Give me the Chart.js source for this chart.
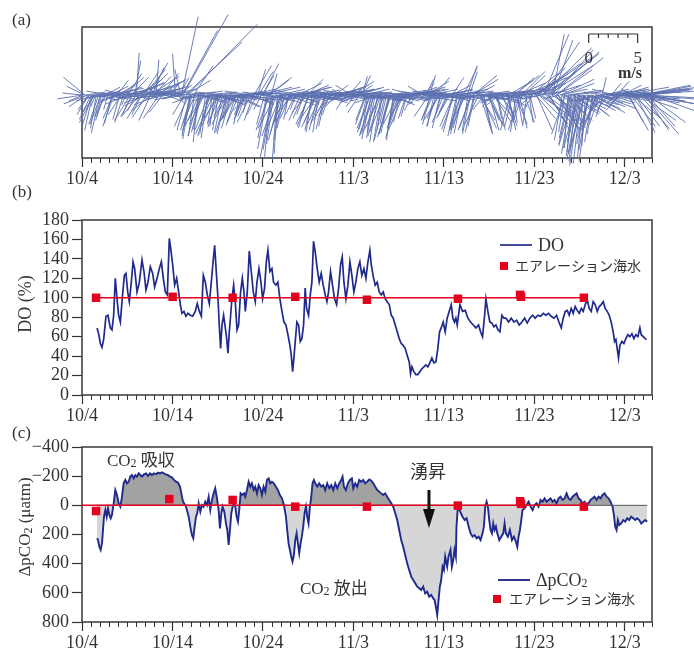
<!DOCTYPE html>
<html><head><meta charset="utf-8">
<script src="https://cdn.jsdelivr.net/npm/chart.js@4.4.1/dist/chart.umd.min.js"></script>
<style>
html,body{margin:0;padding:0;background:#fff;}
#wrap{position:relative;width:694px;height:654px;overflow:hidden;}
canvas{position:absolute;left:0;top:0;}
</style></head><body>
<div id="wrap">
<canvas id="ca" width="694" height="654"></canvas>
<canvas id="cb" width="694" height="654"></canvas>
<canvas id="cc" width="694" height="654"></canvas>
</div>
<script>
// ---------- axis ticks (days since 10/4) ----------
const tickDays = [0, 10, 20, 30, 40, 50, 60];
const tickLabels = ['10/4', '10/14', '10/24', '11/3', '11/13', '11/23', '12/3'];
const doTicks = [0, 20, 40, 60, 80, 100, 120, 140, 160, 180];
const co2Ticks = [-400, -200, 0, 200, 400, 600, 800];

// ---------- (a) wind vectors (u, v in m/s), 6 per day on the hour set ----------
const windPerDay = 6;
const windU = [
-2.0,-1.5,-2.2,-1.8,-1.0,-0.6, -1.2,-0.8,-1.5,-0.5,1.5,-1.0, -0.9,-0.6,1.8,2.2,-1.2,-0.4,
2.5,1.8,-0.8,-1.1,2.0,1.2, 2.4,-0.7,-1.3,3.0,2.0,-0.4, 1.5,2.8,-1.6,-0.9,3.2,0.6,
0.3,2.5,-1.8,-1.4,3.0,2.2, 3.5,-1.5,2.0,3.0,-2.0,2.6, 1.7,0.3,3.2,-1.6,2.5,1.0,
2.2,-1.5,1.5,-2.0,1.0,-0.8, 0.8,-1.2,-0.3,1.5,0.5,-1.0, 1.7,4.6,-1.2,2.5,7.1,-1.5,
-0.8,-1.0,2.0,-1.3,2.5,-0.5, -1.2,-0.8,2.8,-1.5,-0.6,3.0, -1.4,-0.9,2.5,-1.8,-0.5,3.2,
-1.0,-1.6,2.2,-0.8,3.0,-1.2, -1.5,-0.7,2.8,-1.0,3.5,-2.0, -0.9,2.4,-1.3,3.0,-0.6,2.0,
-1.1,2.6,-0.5,3.2,-1.4,2.2, 1.8,2.5,-1.0,1.5,3.0,-0.8, 1.6,-0.8,3.5,-1.0,2.0,-0.6,
-1.2,-0.7,3.0,-1.5,-0.4,2.6, -1.6,-0.9,3.2,-1.3,2.8,-0.5, -1.0,3.0,-1.8,2.5,-0.6,3.5,
2.8,-1.2,3.3,-0.7,2.4,-1.5, -1.0,-1.4,3.0,-0.8,2.6,-1.2, -1.6,-0.6,2.8,-1.1,3.4,-0.9,
-1.3,2.9,-0.7,3.1,-1.5,2.5, 2.7,-1.2,3.2,-0.8,2.5,-1.6, 3.0,-1.0,2.6,1.2,3.3,-1.4,
2.8,-0.9,3.1,1.5,-1.2,2.4, 0.5,2.6,-1.0,-0.8,3.0,-1.3, -1.0,-0.6,-1.5,2.8,-0.8,-1.2,
-1.3,-0.5,3.0,-1.1,-0.7,2.5, -0.9,-1.4,2.7,-0.6,-1.0,3.2, -1.2,-0.7,3.0,-1.5,2.2,-0.8,
2.8,-1.2,3.3,-0.8,2.4,-1.5, 3.0,-1.0,2.6,-1.3,3.4,1.0, 0.8,2.2,-1.5,-0.8,3.0,-1.2,
1.5,-1.0,2.8,-1.6,-0.5,3.1, -1.2,2.5,-0.8,3.2,-1.4,2.0, -1.0,-1.3,2.8,-0.7,3.0,-1.1,
-0.8,1.4,-1.5,3.2,-0.6,0.8, -1.2,2.6,-0.9,3.0,1.8,-1.4, 1.2,2.5,0.8,-1.2,3.2,1.5,
1.0,2.8,-1.0,1.8,3.0,0.5, 2.6,-1.3,1.4,3.1,-0.8,2.2, 1.0,2.5,-1.0,3.0,0.4,2.0,
-0.6,2.8,0.8,3.4,-0.9,2.2, 3.2,-0.4,2.6,0.6,3.6,-1.0, 3.5,2.0,5.5,3.0,2.4,4.2,
2.6,5.5,3.4,4.6,2.2,3.0, 1.2,4.0,2.4,3.6,1.6,2.8, 2.5,3.2,-0.6,2.0,3.6,-1.0,
-1.2,-0.5,2.6,-0.9,3.0,-1.5, -1.3,-0.8,2.8,-1.6,-0.4,3.2, -1.0,-1.4,3.4,-0.6,2.6,-1.2,
2.8,-1.0,3.6,0.4,-0.8,2.4, 3.0,-1.2,2.6,1.0,3.2,-0.8, 3.4,1.2,-1.0,3.0,2.0,-1.4,
4.5,3.6,1.6,5.2,2.5,4.8, 5.5,2.0,4.2,6.0,3.0,5.0, 5.8,3.5,4.6,2.8,5.2,4.0
];
const windV = [
0.2,-0.6,1.8,-1.2,-1.5,-0.8, -2.5,-3.6,-2.8,-1.2,0.3,-3.0, -3.9,-2.6,0.4,-0.3,-2.2,-1.5,
0.5,0.9,-2.9,-3.2,-0.4,1.5, 0.8,-2.5,-2.0,0.6,1.8,-1.0, 2.2,0.4,-2.6,-1.9,1.2,3.5,
4.3,1.6,-2.2,-2.4,0.8,2.6, 1.2,-2.3,3.3,1.9,-1.6,0.3, 1.9,3.6,0.9,-2.4,1.5,0.4,
0.8,0.5,-0.6,-0.4,1.2,0.3, 0.5,-0.4,4.2,1.0,-0.8,0.6, 8.0,8.2,-2.0,1.5,7.2,-3.2,
-4.5,-3.8,3.0,-3.0,-0.5,-4.8, -4.2,-3.5,-0.2,-3.0,-4.0,0.3, -3.6,-2.8,-0.6,-4.0,-3.2,-0.3,
-3.3,-2.5,-0.9,-3.9,-0.1,-2.2, -3.0,-2.6,-0.5,-3.4,0.2,-2.0, -2.8,-1.2,-3.1,-0.6,-2.2,0.4,
-2.5,-0.8,-1.8,0.2,-2.8,-1.0, 3.0,0.5,-2.0,2.4,-0.4,-1.5, 3.2,-3.0,0.8,-5.5,1.5,-6.3,
-6.4,-5.0,-0.5,-4.2,-6.0,0.6, -3.8,-4.6,-0.3,-3.0,-1.0,-2.5, -2.4,0.4,-2.0,-0.8,-1.5,0.8,
0.3,-2.6,-0.5,-2.0,1.0,-1.8, -3.4,-3.0,-0.4,-3.6,0.5,-2.8, -3.3,-3.8,-0.6,-2.9,0.4,-3.5,
-2.6,-0.2,-2.0,0.6,-1.6,-0.5, 0.4,-1.2,-0.3,0.6,0.9,-0.8, 0.5,-1.5,-0.2,1.4,0.3,-0.6,
0.7,-1.2,0.2,1.0,-1.8,-0.4, 1.9,0.6,-2.6,-3.5,-0.3,-3.8, -4.5,-3.8,-4.0,-0.5,-4.8,-3.2,
-4.2,-3.6,-0.8,-4.6,-3.0,-0.2, -3.9,-4.3,-0.6,-3.3,-4.4,0.2, -3.4,-2.8,-0.4,-3.6,0.5,-2.4,
0.4,-0.8,0.2,-1.6,0.8,-0.4, 0.3,-1.0,0.6,-0.5,-0.2,1.2, 1.6,1.4,-2.2,-3.0,0.2,-2.5,
1.8,-3.2,-0.4,-2.6,-2.0,0.5, -2.8,-0.6,-1.8,0.3,-2.4,1.0, -3.8,-3.5,-0.3,-4.0,0.6,-3.3,
-3.9,2.8,-3.6,-0.2,-3.7,2.4, -3.4,1.6,-3.8,-0.5,1.0,-3.0, -3.8,-0.4,-3.4,-1.5,0.3,-3.0,
-3.6,-0.8,-1.2,-2.8,0.4,-2.4, -0.3,-1.0,-2.2,0.5,-0.6,-1.2, -3.2,1.5,-3.6,0.2,-2.8,1.8,
-3.8,1.2,-3.4,0.6,-2.6,2.0, 1.4,-3.0,0.6,-2.4,1.8,-1.6, 2.2,-2.4,3.8,-3.0,1.2,-3.2,
6.2,4.2,-2.6,3.0,-3.8,1.0, 6.2,4.6,-3.4,2.6,-2.2,0.6, -2.0,1.2,-3.8,-3.4,0.5,-4.4,
-5.0,-5.8,-2.0,-6.2,-1.4,-5.4, -6.6,-7.0,-2.2,-6.0,-5.2,-1.0, -5.6,-4.4,-1.8,-4.0,-0.4,-3.2,
-1.2,-3.0,-1.4,1.8,-2.2,0.6, 0.4,-1.6,-0.8,1.2,-0.2,-1.0, 0.6,1.4,-1.2,-0.6,1.0,-0.4,
0.8,-0.6,-2.8,0.3,-3.2,-0.8, 0.6,-3.8,-1.4,0.4,-3.4,1.0, -0.3,-4.0,0.9,-3.2,-1.0,0.5
];
// second set, half a step later (u, v in m/s)
const windU2 = [
-2.6,-1.8,2.0,-2.4,-1.2,1.6, -1.0,2.4,-1.4,-0.6,-2.2,1.8, -1.1,2.6,-0.7,1.5,-2.0,2.2,
-2.4,2.8,-1.0,3.0,-1.8,1.6, 2.6,-2.0,1.4,-0.9,2.8,-2.2, 3.0,-2.4,1.8,-1.2,2.4,-0.8,
2.8,-2.6,3.4,-1.0,1.6,-2.0, 2.2,-2.4,3.0,-1.2,1.2,-2.8, 3.2,-2.0,2.4,-2.6,1.8,-1.4,
2.6,-2.2,3.0,-1.8,2.0,-2.6, 2.4,-1.8,2.8,-2.4,1.0,-0.6, 3.6,-2.2,5.8,-1.0,2.8,-0.8,
-1.1,3.0,-0.6,-2.4,2.6,-1.4, -0.9,2.4,-1.6,-2.6,3.2,-0.7, -1.2,2.8,-0.5,-2.2,3.0,-1.6,
-0.6,2.6,-1.4,-2.8,3.4,-0.9, -1.2,3.0,-0.8,-2.4,2.6,-1.6, -1.4,2.8,-0.6,-2.2,3.2,-1.0,
-0.8,3.0,-1.6,-2.6,2.4,-0.9, -2.4,2.8,0.8,-1.6,3.2,1.2, -2.2,3.0,-0.9,2.4,-1.4,0.6,
-1.0,2.8,-1.8,-0.5,3.2,-1.2, -1.2,2.6,-0.8,-2.2,3.4,-1.4, 2.6,-2.4,3.2,-1.0,-2.0,2.4,
-2.2,3.0,-1.0,2.6,-2.6,1.6, -1.2,2.8,-0.6,-2.4,3.2,-1.6, -0.9,3.0,-1.4,-2.6,2.4,-0.7,
-2.4,2.6,-1.2,3.2,-2.0,1.4, -2.6,3.0,-1.8,2.4,-2.2,3.4, -2.2,2.8,-2.8,3.2,-1.6,2.2,
-2.8,3.0,-1.8,2.6,-2.4,0.9, -2.4,2.8,-1.1,-0.6,3.2,-1.4, -1.3,2.6,-0.9,-2.2,3.0,-1.6,
-0.8,3.2,-1.5,-2.6,2.8,-1.0, -1.2,2.8,-0.7,-2.4,3.2,-1.5, -1.0,3.0,-1.4,-2.6,2.6,-0.6,
-2.4,3.2,-2.0,2.6,-2.8,3.0, -2.6,2.8,-2.2,3.4,-1.6,2.4, -2.2,3.0,0.6,-1.0,2.6,-0.7,
-2.4,2.8,-1.2,-0.8,3.4,-2.0, -2.6,3.0,-1.0,2.4,-2.2,1.2, -1.4,2.6,-0.9,-2.4,3.2,-1.2,
-1.0,3.0,-1.6,1.0,-2.6,-0.8, -1.4,2.4,-0.7,3.2,-2.2,1.6, 1.6,2.8,0.9,-2.2,3.4,1.1,
1.4,-2.0,2.2,3.2,-1.6,0.8, -2.4,2.8,1.2,-1.8,3.4,0.6, 0.8,-2.2,3.2,-0.8,2.6,1.2,
0.6,3.0,-1.2,2.4,-2.4,1.0, -2.2,3.0,0.4,2.8,-1.4,3.4, 4.6,1.6,2.8,3.8,-2.0,5.0,
3.6,2.8,4.4,1.8,5.0,2.6, 2.0,3.0,4.8,2.2,-1.6,3.4, -0.8,3.0,-1.4,2.6,-0.4,3.2,
-1.0,2.8,-1.6,-0.7,3.4,-1.2, -1.1,2.6,-0.6,-1.5,3.0,-0.9, -1.3,3.0,-0.8,-2.0,2.8,-1.6,
-1.2,3.2,-2.2,2.6,-1.6,3.0, -2.4,2.8,-1.8,3.4,-2.2,2.6, -2.6,3.2,-1.4,2.8,-2.0,3.6,
3.8,-1.8,2.0,5.6,3.0,-1.2, 4.6,2.4,6.2,-1.6,3.6,5.4, 5.0,2.4,6.0,3.8,-1.4,4.4
];
const windV2 = [
-0.4,0.9,0.3,-0.9,-2.0,-0.2, -3.2,0.2,-2.0,-3.4,-0.6,-0.5, -3.0,-0.4,-2.2,0.8,-0.3,0.3,
0.4,-0.2,-2.4,0.7,-0.8,0.9, 0.2,-0.6,1.2,-2.8,-0.4,0.5, 0.9,-0.9,1.8,-2.2,-0.2,-1.6,
1.3,-0.5,0.4,-2.0,2.4,-1.1, 2.2,-0.8,0.6,-2.6,2.8,0.2, 1.6,-0.3,0.2,-1.0,2.2,-1.8,
0.3,-0.2,0.6,0.8,-0.4,0.3, -0.3,0.4,0.2,-0.5,1.8,2.6, 6.6,-0.4,5.4,-3.6,0.3,-4.2,
-3.6,-0.3,-4.2,-0.8,0.4,-3.2, -3.8,-0.8,-2.6,-0.4,-0.5,-4.4, -4.2,0.2,-3.0,-0.6,-1.0,-3.2,
-3.6,-0.7,-2.8,0.3,-0.3,-4.0, -3.8,-0.2,-2.4,-0.5,-1.2,-2.8, -2.4,0.3,-3.0,-0.7,-0.4,-2.0,
-2.2,-0.5,-1.6,0.4,0.6,-2.6, -0.3,0.2,2.6,-0.9,0.8,2.0, 0.3,-0.6,-4.4,1.8,-3.6,2.2,
-5.6,-0.8,-3.4,-6.6,0.2,-4.6, -4.0,0.4,-3.4,-0.5,-0.2,-2.8, -0.6,0.2,0.3,-2.0,-0.5,1.2,
0.4,-0.2,-2.4,0.8,-0.6,1.6, -3.2,-0.5,-3.8,-0.3,0.2,-2.4, -3.6,0.3,-3.0,0.2,-0.8,-3.2,
0.2,-0.6,-2.2,0.4,-0.4,1.0, 0.3,-0.4,0.6,0.8,-0.5,0.2, -0.6,0.6,0.2,-0.3,1.0,1.4,
0.4,-0.2,-0.8,0.8,0.2,2.0, -0.4,0.3,-3.0,-4.0,-0.6,-3.4, -4.2,-0.6,-4.4,-0.8,0.2,-3.6,
-4.8,-0.4,-3.8,0.2,-1.0,-4.0, -4.0,0.2,-4.6,-0.4,-0.6,-3.0, -3.0,-0.5,-2.6,0.3,0.4,-2.2,
0.2,-0.4,0.6,0.5,-0.3,0.8, -0.5,0.2,0.4,-0.6,0.9,0.6, 0.3,-0.3,2.0,-2.6,0.6,-3.2,
0.4,0.3,-2.4,-3.4,-0.2,-0.6, -0.3,-0.5,-2.2,0.6,0.3,1.8, -3.2,0.3,-4.2,-0.4,-0.6,-3.6,
-3.4,0.4,-3.0,3.0,-0.3,-4.0, -3.6,2.0,-3.2,0.2,-0.4,-2.6, -3.4,0.4,-4.0,-0.3,-0.6,-2.6,
-3.2,0.2,-2.4,-0.4,-0.8,-3.6, 0.4,0.3,-2.8,-0.5,-0.2,-2.0, -3.6,0.3,0.6,-3.2,2.0,-3.0,
-3.2,0.8,-3.6,2.4,-0.2,-2.8, -0.4,0.9,-2.8,2.2,-1.2,0.4, 3.2,-3.6,2.8,-2.6,-0.4,4.8,
5.4,-3.0,3.6,-2.8,4.4,-1.6, 5.6,-2.8,3.8,-3.6,-0.4,1.6, -4.6,-1.6,-4.0,-2.6,-5.4,0.3,
-6.0,-1.8,-5.2,-6.8,-1.2,-4.8, -7.2,-2.0,-6.4,-5.6,-1.6,-6.8, -5.0,-1.4,-4.8,-0.6,-0.8,-3.6,
-2.6,-0.9,-0.5,0.4,-1.8,0.2, 0.3,-0.5,-1.2,0.5,0.6,-0.3, -0.4,0.3,-1.6,0.8,0.2,-0.2,
0.3,-0.4,-3.6,-0.6,-2.4,0.6, -0.4,-3.2,0.8,-0.3,-2.6,-0.9, 0.6,-3.6,-0.5,-2.8,0.3,-1.6
];

// ---------- (b) DO (%) ----------
const doDays = [
1.66,1.84,2.03,2.21,2.39,2.65,2.87,3.13,3.31,3.50,3.68,3.87,4.05,4.24,4.42,4.68,4.86,5.05,5.23,5.45,
5.64,5.82,6.08,6.34,6.63,6.85,7.07,7.29,7.55,7.81,8.03,8.29,8.55,8.77,8.99,9.21,9.43,9.65,9.80,10.02,
10.24,10.46,10.68,10.87,11.05,11.27,11.49,11.71,11.97,12.23,12.52,12.74,12.97,13.19,13.41,13.63,13.85,14.07,14.29,14.44,
14.66,14.84,15.03,15.17,15.32,15.47,15.65,15.84,15.99,16.13,16.28,16.43,16.57,16.76,16.94,17.13,17.31,17.53,17.72,17.90,
18.05,18.27,18.49,18.71,18.93,19.15,19.34,19.56,19.78,19.96,20.18,20.37,20.55,20.77,
20.99,21.17,21.43,21.65,21.87,22.10,22.32,22.54,22.76,22.98,23.13,23.28,23.42,23.57,23.75,23.94,24.12,24.30,24.49,24.67,
24.82,25.04,25.23,25.41,25.59,25.78,26.00,26.22,26.44,26.66,26.88,27.07,27.25,27.47,27.69,27.91,28.14,28.36,28.58,28.76,
28.95,29.17,29.39,29.61,29.83,30.05,30.27,30.49,30.71,30.93,31.16,31.38,31.60,31.82,31.97,32.19,32.41,32.63,32.85,33.07,
33.29,33.51,33.73,33.96,34.18,34.40,34.62,34.84,35.06,35.28,35.50,35.72,35.94,36.17,36.31,36.46,36.68,36.90,37.12,37.34,
37.56,37.79,38.01,38.23,38.45,38.67,38.89,39.11,39.33,39.52,39.70,39.92,40.14,40.36,40.58,40.81,40.99,41.17,41.32,41.47,
41.77,42.06,42.36,42.65,42.95,43.24,43.54,43.83,44.05,44.27,44.50,44.64,44.86,45.08,45.31,45.53,45.75,45.97,46.19,46.41,
46.63,46.85,47.15,47.44,47.74,48.03,48.33,48.62,48.92,49.21,49.50,49.80,50.09,50.39,50.68,50.98,51.27,51.57,51.86,52.16,
52.45,52.75,52.97,53.19,53.41,53.63,53.85,54.07,54.29,54.51,54.73,54.96,55.18,55.40,55.62,55.84,56.06,56.28,56.50,56.72,
56.95,57.17,57.39,57.61,57.83,58.05,58.27,58.49,58.71,58.86,59.01,59.15,59.30,59.45,59.67,59.89,60.11,60.33,60.55,60.78,
61.00,61.22,61.44,61.66,61.81,62.03,62.25,62.40
];
const doValues = [
69,63,53,49,57,81,82,69,67,82,120,99,82,75,96,123,125,106,96,116,
137,130,106,116,139,127,108,116,132,125,111,120,130,137,120,106,103,161,151,134,
113,120,106,93,84,86,81,84,82,81,86,94,86,81,123,116,103,94,116,132,
154,127,99,72,48,72,82,69,58,43,65,82,99,113,96,67,72,106,120,106,
86,106,148,127,106,96,116,130,116,99,110,137,149,127,
130,116,113,116,99,86,75,72,62,51,41,24,38,55,75,72,55,58,72,110,
89,82,103,116,158,147,130,116,125,113,103,96,106,127,113,99,93,110,134,142,
116,99,113,137,123,106,116,130,137,123,130,120,137,149,134,122,113,116,106,103,
106,99,96,93,82,79,72,65,58,53,51,48,41,34,22,29,24,21,21,24,
27,29,31,29,33,38,33,34,48,65,69,75,65,79,86,93,79,75,79,72,
93,86,87,79,75,72,69,72,65,60,82,99,86,75,74,70,72,67,65,82,
79,79,75,79,75,77,72,75,79,74,79,82,79,82,81,84,82,84,81,79,
82,74,69,79,86,87,82,89,84,91,87,84,89,86,93,98,89,86,96,93,
86,91,93,96,89,86,82,75,65,55,57,48,38,51,55,53,58,62,60,63,
58,62,60,69,62,60,58,57
];
const doRefLevel = 100;
const aerDaysDO = [1.55, 10.02, 16.65, 23.57, 31.49, 41.55, 48.42, 48.52, 55.47];
const aerDO = [100, 101, 100, 101, 98, 99, 103, 101, 100];

// ---------- (c) ΔpCO2 (μatm) ----------
const co2Days = [
1.66,1.77,1.92,2.06,2.21,2.32,2.43,2.58,2.73,2.87,3.02,3.17,3.31,3.50,3.68,3.87,4.05,4.24,4.42,4.60,
4.79,4.97,5.16,5.34,5.52,5.71,5.89,6.08,6.26,6.45,6.63,6.85,7.07,7.29,7.51,7.73,7.96,8.18,8.40,8.62,
8.84,9.06,9.28,9.50,9.72,9.94,10.17,10.39,10.61,10.83,10.98,11.12,11.27,11.42,11.60,11.79,11.97,12.15,12.30,12.45,
12.60,12.74,12.89,13.08,13.26,13.44,13.63,13.81,14.00,14.18,14.36,14.55,14.73,14.92,15.10,15.25,15.40,15.54,15.73,15.91,
16.06,16.21,16.35,16.50,16.65,16.80,16.94,17.09,17.24,17.38,17.53,17.68,17.90,18.05,18.23,18.42,18.60,18.78,18.97,19.15,
19.34,19.52,19.71,19.89,20.07,20.26,20.44,20.63,20.81,
20.99,21.21,21.43,21.65,21.87,22.10,22.32,22.54,22.68,22.83,22.98,23.13,23.27,23.42,23.57,23.72,23.86,24.01,24.16,24.30,
24.45,24.60,24.75,24.89,25.04,25.19,25.34,25.48,25.63,25.78,26.00,26.22,26.44,26.66,26.88,27.10,27.33,27.55,27.77,27.99,
28.21,28.43,28.65,28.80,28.95,29.17,29.39,29.61,29.83,29.98,30.20,30.42,30.64,30.86,31.08,31.30,31.52,31.75,31.97,32.19,
32.41,32.63,32.85,33.07,33.29,33.51,33.73,33.96,34.18,34.40,34.62,34.84,35.06,35.28,35.50,35.72,35.94,36.16,36.39,36.61,
36.83,37.05,37.27,37.49,37.71,37.93,38.15,38.37,38.60,38.82,38.96,39.11,39.26,39.41,39.55,39.70,39.85,40.00,40.14,40.36,
40.51,40.73,40.88,41.03,41.17,41.32,41.39,41.54,
42.06,42.29,42.51,42.73,42.95,43.17,43.39,43.61,43.83,44.05,44.27,44.42,44.57,44.72,44.86,45.01,45.16,45.31,45.45,45.60,
45.75,45.90,46.12,46.34,46.56,46.71,46.85,47.07,47.29,47.52,47.74,47.96,48.11,48.25,48.40,48.55,48.69,48.92,49.14,49.36,
49.58,49.80,50.02,50.24,50.46,50.68,50.90,51.13,51.35,51.57,51.79,52.01,52.23,52.45,52.67,52.89,53.11,53.34,53.56,53.78,
54.00,54.22,54.44,54.66,54.88,55.10,55.32,55.55,55.77,55.99,56.21,56.43,56.65,56.87,57.09,57.31,57.53,57.76,57.98,58.20,
58.42,58.64,58.79,58.93,59.08,59.23,59.38,59.60,59.82,60.04,60.26,60.48,60.70,60.92,61.14,61.36,61.59,61.81,62.03,62.25,62.47
];
const co2Values = [
226,238,284,306,261,169,78,32,78,21,66,89,66,-14,-105,-71,-14,9,-59,-151,
-174,-151,-162,-197,-208,-185,-208,-197,-219,-208,-197,-213,-219,-201,-219,-208,-219,-213,-224,-219,
-226,-219,-213,-208,-197,-192,-174,-162,-155,-128,-82,-37,-14,-2,32,78,146,204,226,146,
78,55,-14,43,-2,9,-25,-2,-59,32,-37,-82,-117,-48,32,158,55,9,43,124,
169,272,169,55,9,-14,9,78,112,32,-82,-71,-82,-59,-105,-162,-128,-151,-105,-128,
-82,-139,-117,-71,-128,-94,-174,-185,-151,
-162,-151,-128,-105,-71,-48,-2,78,169,261,306,352,386,341,238,192,261,329,261,215,
146,55,9,78,124,9,-59,-151,-174,-151,-128,-151,-128,-139,-105,-151,-117,-139,-105,-151,
-117,-151,-174,-197,-128,-105,-151,-174,-185,-117,-151,-128,-174,-162,-174,-151,-162,-178,-169,-151,
-128,-105,-94,-82,-71,-82,-59,-37,-14,9,55,101,169,238,284,341,398,444,489,512,
535,558,569,581,558,604,592,626,615,638,649,695,752,649,558,512,421,444,352,421,
352,306,421,375,306,352,146,9,
78,101,89,146,192,215,204,226,215,238,192,146,9,-25,9,101,169,192,124,169,
146,192,238,215,192,124,192,215,169,238,215,249,284,215,169,101,32,21,-2,-25,
9,32,-2,-14,9,-37,-25,-48,-25,-37,-48,-25,-37,-14,-48,-59,-37,-48,-82,-48,
-37,-59,-71,-82,-48,-37,-14,-25,9,-14,-37,-48,-59,-37,-59,-48,-71,-82,-59,-48,
-25,9,66,146,169,101,135,124,101,112,89,101,78,89,101,89,101,124,112,101,112
];
const co2RefLevel = 0;
const aerDaysCO2 = [1.55, 9.65, 16.65, 23.57, 31.49, 41.54, 48.42, 48.52, 55.47];
const aerCO2 = [39, -43, -37, 9, 9, 2, -28, -10, 9];

// ---------- styling ----------
const SERIF = "'Liberation Serif','Times New Roman',serif";
const CJK = "'Noto Sans CJK JP','Noto Sans CJK SC',sans-serif";
const INK = '#333333';
const NAVY = '#1f2a8c';
const RED = '#e5001e';
const WIND = 'rgba(92,112,176,0.9)';
const X_MAX = 63;
const Y_WIND_MIN = -6.43, Y_WIND_MAX = 6.94;  // m/s, same px per m/s as x
const KX = (131 / (Y_WIND_MAX - Y_WIND_MIN)) / (570 / X_MAX); // days per m/s

function xScale() {
  return {
    type: 'linear', min: 0, max: X_MAX,
    afterBuildTicks: s => { s.ticks = tickDays.map(v => ({ value: v })); },
    afterFit: s => { s.height = 32; },
    ticks: { callback: (v, i) => tickLabels[i], autoSkip: false, maxRotation: 0, minRotation: 0,
             font: { family: SERIF, size: 18 }, color: INK, padding: 1 },
    grid: { drawOnChartArea: false, drawTicks: true, tickLength: 9, tickColor: INK, tickWidth: 1.2 },
    border: { display: false }
  };
}
function yScale(extra) {
  return Object.assign({
    afterFit: s => { s.width = 82; },
    grid: { drawOnChartArea: false, drawTicks: true, tickLength: 10, tickColor: INK, tickWidth: 1.2 },
    border: { display: false },
    ticks: { font: { family: SERIF, size: 18 }, color: INK, padding: 3, autoSkip: false }
  }, extra);
}

const framePlugin = {
  id: 'frame',
  beforeDatasetsDraw(chart) {
    const { ctx, chartArea: a, scales: { x } } = chart;
    ctx.save();
    ctx.strokeStyle = '#3a3a3a'; ctx.lineWidth = 1.5;
    ctx.strokeRect(a.left, a.top, a.right - a.left, a.bottom - a.top);
    ctx.lineWidth = 1; ctx.strokeStyle = INK;
    ctx.beginPath();
    for (let d = 0; d <= X_MAX; d++) {
      if (d % 10 === 0) continue;
      const px = Math.round(x.getPixelForValue(d)) + 0.5;
      ctx.moveTo(px, a.bottom); ctx.lineTo(px, a.bottom + 5);
    }
    ctx.stroke();
    ctx.restore();
  }
};

function runs(ctx, x, y, parts, align) {
  let w = 0;
  parts.forEach(p => { ctx.font = p[1]; w += ctx.measureText(p[0]).width; });
  let cx = align === 'center' ? x - w / 2 : x;
  parts.forEach(p => { ctx.font = p[1]; ctx.fillText(p[0], cx, y + (p[2] || 0)); cx += ctx.measureText(p[0]).width; });
}
function vtitle(ctx, cx, cy, parts) {
  ctx.save(); ctx.translate(cx, cy); ctx.rotate(-Math.PI / 2);
  runs(ctx, 0, 6, parts, 'center'); ctx.restore();
}
const f = (sz, fam, w) => (w || '') + ' ' + sz + 'px ' + fam;

const common = {
  responsive: false, animation: false, devicePixelRatio: 1, events: [],
  plugins: { legend: { display: false }, tooltip: { enabled: false } }
};

// ---------- panel (a) ----------
const stickPts = [];
function addSticks(us, vs, offset) {
  us.forEach((u, i) => {
    const t = (i + offset) / windPerDay;
    stickPts.push({ x: t, y: 0 }, { x: t + u * KX, y: vs[i] }, { x: t, y: null });
  });
}
addSticks(windU, windV, 0);
addSticks(windU2, windV2, 0.5);
new Chart(document.getElementById('ca'), {
  type: 'line',
  data: { datasets: [{ data: stickPts, borderColor: WIND, borderWidth: 1, pointRadius: 0,
                       spanGaps: false, tension: 0, clip: false }] },
  options: Object.assign({}, common, {
    layout: { padding: { left: 0, right: 42, top: 27, bottom: 464 } },
    scales: { x: xScale(), y: yScale({ min: Y_WIND_MIN, max: Y_WIND_MAX, ticks: { display: false },
                                        grid: { display: false } }) }
  }),
  plugins: [framePlugin, {
    id: 'txtA',
    afterDraw(chart) {
      const { ctx, scales: { x } } = chart;
      ctx.save(); ctx.fillStyle = INK; ctx.textBaseline = 'alphabetic';
      runs(ctx, 12, 25, [['(a)', f(17, SERIF)]]);
      // wind scale bar 0–5 m/s
      const x0 = x.getPixelForValue(56.0), x5 = x.getPixelForValue(56.0 + 5 * KX);
      ctx.strokeStyle = INK; ctx.lineWidth = 1.2; ctx.beginPath();
      ctx.moveTo(x0, 34); ctx.lineTo(x5, 34);
      for (let k = 0; k <= 5; k++) {
        const px = x0 + (x5 - x0) * k / 5;
        ctx.moveTo(px, 34); ctx.lineTo(px, (k === 0 || k === 5) ? 43 : 38);
      }
      ctx.stroke();
      runs(ctx, x0, 63, [['0', f(17, SERIF)]], 'center');
      runs(ctx, x5, 63, [['5', f(17, SERIF)]], 'center');
      runs(ctx, 630, 78, [['m/s', f(16, SERIF, 'bold')]], 'center');
      ctx.restore();
    }
  }]
});

// ---------- panel (b) ----------
new Chart(document.getElementById('cb'), {
  type: 'line',
  data: { datasets: [
    { type: 'scatter', data: aerDaysDO.map((d, i) => ({ x: d, y: aerDO[i] })), pointStyle: 'rect',
      pointRadius: 6, backgroundColor: RED, borderWidth: 0 },
    { data: [{ x: aerDaysDO[0], y: doRefLevel }, { x: aerDaysDO[aerDaysDO.length - 1], y: doRefLevel }],
      borderColor: RED, borderWidth: 1.5, pointRadius: 0 },
    { data: doDays.map((d, i) => ({ x: d, y: doValues[i] })), borderColor: NAVY, borderWidth: 1.7,
      pointRadius: 0, tension: 0 }
  ] },
  options: Object.assign({}, common, {
    layout: { padding: { left: 0, right: 42, top: 220, bottom: 227 } },
    scales: { x: xScale(), y: yScale({ min: 0, max: 180,
      afterBuildTicks: s => { s.ticks = doTicks.map(v => ({ value: v })); } }) }
  }),
  plugins: [framePlugin, {
    id: 'txtB',
    afterDraw(chart) {
      const { ctx } = chart;
      ctx.save(); ctx.fillStyle = INK; ctx.textBaseline = 'alphabetic';
      runs(ctx, 12, 197, [['(b)', f(17, SERIF)]]);
      vtitle(ctx, 25, 304, [['DO (%)', f(18, SERIF)]]);
      ctx.strokeStyle = NAVY; ctx.lineWidth = 1.7; ctx.beginPath();
      ctx.moveTo(500, 245); ctx.lineTo(532, 245); ctx.stroke();
      runs(ctx, 538, 251, [['DO', f(18, SERIF)]]);
      ctx.fillStyle = RED; ctx.fillRect(500, 262, 8, 8);
      ctx.fillStyle = INK;
      runs(ctx, 515, 271, [['エアレーション海水', f(14, CJK)]]);
      ctx.restore();
    }
  }]
});

// ---------- panel (c) ----------
new Chart(document.getElementById('cc'), {
  type: 'line',
  data: { datasets: [
    { type: 'scatter', data: aerDaysCO2.map((d, i) => ({ x: d, y: aerCO2[i] })), pointStyle: 'rect',
      pointRadius: 6, backgroundColor: RED, borderWidth: 0 },
    { data: [{ x: 0, y: co2RefLevel }, { x: aerDaysCO2[aerDaysCO2.length - 1], y: co2RefLevel }],
      borderColor: RED, borderWidth: 1.5, pointRadius: 0 },
    { data: [{ x: co2Days[0], y: co2RefLevel }, { x: co2Days[co2Days.length - 1], y: co2RefLevel }],
      borderColor: '#555555', borderWidth: 1, pointRadius: 0 },
    { data: co2Days.map((d, i) => ({ x: d, y: co2Values[i] })), borderColor: NAVY, borderWidth: 1.9,
      pointRadius: 0, tension: 0,
      fill: { target: { value: co2RefLevel }, above: '#a2a2a2', below: '#d6d6d6' } }
  ] },
  options: Object.assign({}, common, {
    layout: { padding: { left: 0, right: 42, top: 447, bottom: 0 } },
    scales: { x: xScale(), y: yScale({ min: -400, max: 800, reverse: true,
      afterBuildTicks: s => { s.ticks = co2Ticks.map(v => ({ value: v })); },
      ticks: { font: { family: SERIF, size: 18 }, color: INK, padding: 3, autoSkip: false,
               callback: v => v < 0 ? '\u2212' + (-v) : String(v) } }) }
  }),
  plugins: [framePlugin, {
    id: 'txtC',
    afterDraw(chart) {
      const { ctx, scales: { x, y } } = chart;
      ctx.save(); ctx.fillStyle = INK; ctx.textBaseline = 'alphabetic';
      runs(ctx, 12, 438, [['(c)', f(17, SERIF)]]);
      vtitle(ctx, 24, 527, [['\u0394pCO', f(17, SERIF)], ['2', f(12, SERIF), 2], [' (\u03bcatm)', f(17, SERIF)]]);
      runs(ctx, 107, 466, [['CO', f(17, SERIF)], ['2', f(12, SERIF), 1], [' ', f(17, SERIF)], ['吸収', f(17, CJK)]]);
      runs(ctx, 300, 594, [['CO', f(17, SERIF)], ['2', f(12, SERIF), 1], [' ', f(17, SERIF)], ['放出', f(17, CJK)]]);
      runs(ctx, 410, 478, [['湧昇', f(18, CJK)]]);
      // upwelling arrow
      const ax = x.getPixelForValue(38.35), ay0 = y.getPixelForValue(-105), ay1 = y.getPixelForValue(155);
      ctx.fillStyle = '#111'; ctx.fillRect(ax - 1.5, ay0, 3, ay1 - ay0 - 16);
      ctx.beginPath(); ctx.moveTo(ax - 6, ay1 - 19); ctx.lineTo(ax + 6, ay1 - 19); ctx.lineTo(ax, ay1); ctx.closePath(); ctx.fill();
      // legend
      ctx.fillStyle = INK;
      ctx.strokeStyle = NAVY; ctx.lineWidth = 1.9; ctx.beginPath();
      ctx.moveTo(498, 580); ctx.lineTo(530, 580); ctx.stroke();
      runs(ctx, 536, 586, [['\u0394pCO', f(18, SERIF)], ['2', f(12, SERIF), 1]]);
      ctx.fillStyle = RED; ctx.fillRect(493, 595, 8, 8);
      ctx.fillStyle = INK;
      runs(ctx, 509, 604, [['エアレーション海水', f(14, CJK)]]);
      ctx.restore();
    }
  }]
});
</script>
</body></html>
